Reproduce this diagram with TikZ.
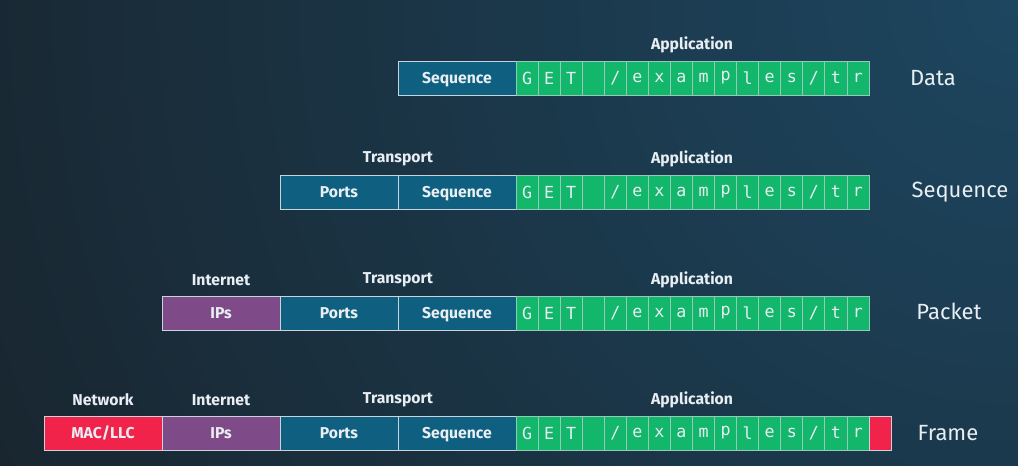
\documentclass[tikz,border=0pt]{standalone}
\usepackage{fontspec}
\setmainfont{Fira Sans}
\newfontfamily\monof{DejaVu Sans Mono}
\definecolor{bgA}{HTML}{182128}
\definecolor{bgB}{HTML}{1D4660}
\definecolor{segblue}{HTML}{0E5F80}
\definecolor{seggreen}{HTML}{12B76B}
\definecolor{segpurple}{HTML}{7E4B88}
\definecolor{segred}{HTML}{F2234B}
\definecolor{edgecol}{HTML}{C9D3DA}
\definecolor{txt}{HTML}{E8EEF2}
\tikzset{
  seg/.style={draw=edgecol, line width=0.7pt, minimum width=88.5pt, minimum height=25.5pt,
    inner sep=0pt, outer sep=0pt, text=txt, text height=8.4pt, text depth=0pt,
    font=\bfseries\fontsize{11.8}{13}\selectfont},
  gcell/.style={draw=edgecol!70!seggreen, fill=seggreen, line width=0.6pt, minimum width=16.55pt,
    minimum height=25.5pt, inner sep=0pt, outer sep=0pt, text=txt, font=\monof\fontsize{12.5}{13}\selectfont},
  layer/.style={text=txt, font=\bfseries\fontsize{11.8}{13}\selectfont, inner sep=0pt},
  rowname/.style={text=txt, font=\fontsize{16.5}{18}\selectfont, inner sep=0pt}
}
\newcommand{\greenrow}[2]{%
  \foreach \c [count=\i from 0] in {G,E,T,{},/,e,x,a,m,p,l,e,s,/,t,r}
    \node[gcell] (#1g\i) at ({516+\i*22.0625+11.03},{#2+17}) {\c};
}
\begin{document}
\begin{tikzpicture}[x=0.75pt,y=-0.75pt]
\useasboundingbox (0,0) rectangle (1018,466);
\fill[bgA] (0,0) rectangle (1018,466);
\begin{scope}
\clip (0,0) rectangle (1018,466);
\shade[inner color=bgB, outer color=bgA] (1018,0) circle (1300);
\end{scope}

% Row 1: Data
\node[layer] (app1) at (692,45) {Application};
\node[seg, fill=segblue] (seq1) at (457,78) {Sequence};
\greenrow{r1}{61}
\node[rowname] (data) at (933,78) {Data};

% Row 2: Sequence
\node[layer] (tr2) at (398,159) {Transport};
\node[layer] (app2) at (692,159) {Application};
\node[seg, fill=segblue] (ports2) at (339,192) {Ports};
\node[seg, fill=segblue] (seq2) at (457,192) {Sequence};
\greenrow{r2}{175}
\node[rowname] (segname) at (960,192) {Sequence};

% Row 3: Packet
\node[layer] (in3) at (221,280) {Internet};
\node[layer] (tr3) at (398,280) {Transport};
\node[layer] (app3) at (692,280) {Application};
\node[seg, fill=segpurple] (ip3) at (221,313) {IPs};
\node[seg, fill=segblue] (ports3) at (339,313) {Ports};
\node[seg, fill=segblue] (seq3) at (457,313) {Sequence};
\greenrow{r3}{296}
\node[rowname] (packet) at (949,311) {Packet};

% Row 4: Frame
\node[layer] (nw4) at (103,400) {Network};
\node[layer] (in4) at (221,400) {Internet};
\node[layer] (tr4) at (398,400) {Transport};
\node[layer] (app4) at (692,400) {Application};
\node[seg, fill=segred] (mac4) at (103,433) {MAC/LLC};
\node[seg, fill=segpurple] (ip4) at (221,433) {IPs};
\node[seg, fill=segblue] (ports4) at (339,433) {Ports};
\node[seg, fill=segblue] (seq4) at (457,433) {Sequence};
\greenrow{r4}{416}
\node[seg, fill=segred, minimum width=17pt] (tail4) at (880.5,433) {};
\node[rowname] (frame) at (948,433) {Frame};
\end{tikzpicture}
\end{document}
